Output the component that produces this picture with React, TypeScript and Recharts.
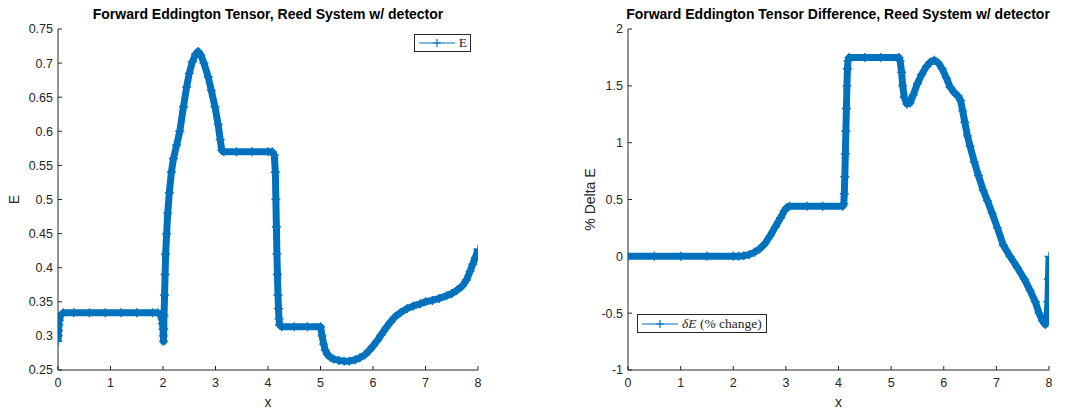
import { LineChart, Line, XAxis, YAxis } from 'recharts';

// shared axis ticks
const xTicks = [0, 1, 2, 3, 4, 5, 6, 7, 8];
const eTicks = [0.25, 0.3, 0.35, 0.4, 0.45, 0.5, 0.55, 0.6, 0.65, 0.7, 0.75];
const deltaTicks = [-1, -0.5, 0, 0.5, 1, 1.5, 2];

// forward Eddington tensor E(x)
const eX = [
  0, 0.005, 0.01, 0.015, 0.025, 0.05, 0.1, 0.3, 0.6, 0.9, 1.2, 1.5, 1.8, 1.9, 1.95, 1.98, 1.99, 2.0, 2.005, 2.01,
  2.015, 2.02, 2.03, 2.04, 2.05, 2.07, 2.09, 2.12, 2.16, 2.2, 2.26, 2.32, 2.39, 2.45, 2.5, 2.56, 2.62, 2.67,
  2.72, 2.78, 2.86, 2.92, 2.99, 3.05, 3.09, 3.12, 3.16, 3.4, 3.7, 4.0, 4.08, 4.12, 4.14, 4.15, 4.16, 4.17,
  4.18, 4.19, 4.2, 4.21, 4.22, 4.26, 4.5, 4.75, 5.0, 5.03, 5.06, 5.09, 5.13, 5.18, 5.25, 5.35, 5.45, 5.55,
  5.66, 5.75, 5.84, 5.92, 6.0, 6.08, 6.15, 6.25, 6.33, 6.42, 6.52, 6.65, 6.77, 6.9, 7.0, 7.13, 7.26, 7.4,
  7.5, 7.6, 7.7, 7.78, 7.85, 7.9, 7.95, 8.0,
];
const eVal = [
  0.292, 0.3, 0.308, 0.316, 0.323, 0.33, 0.334, 0.334, 0.334, 0.334, 0.334, 0.334, 0.334, 0.334, 0.331, 0.325, 0.318, 0.31, 0.3, 0.292,
  0.31, 0.33, 0.36, 0.39, 0.42, 0.45, 0.48, 0.51, 0.54, 0.56, 0.58, 0.6, 0.636, 0.665, 0.685, 0.702, 0.713, 0.717,
  0.712, 0.7, 0.68, 0.66, 0.636, 0.61, 0.588, 0.572, 0.57, 0.57, 0.57, 0.57, 0.57, 0.565, 0.54, 0.5, 0.46, 0.42,
  0.39, 0.36, 0.34, 0.325, 0.316, 0.3135, 0.3135, 0.3135, 0.3135, 0.3, 0.288, 0.279, 0.273, 0.269, 0.266, 0.264, 0.263, 0.263,
  0.265, 0.268, 0.272, 0.278, 0.285, 0.293, 0.301, 0.312, 0.32, 0.328, 0.334, 0.34, 0.344, 0.347, 0.35, 0.352, 0.355, 0.359,
  0.362, 0.367, 0.373, 0.382, 0.395, 0.405, 0.415, 0.427,
];

// percent change of E
const dX = [
  0, 0.5, 1, 1.5, 2, 2.1, 2.2, 2.3, 2.4, 2.5, 2.6, 2.7, 2.8, 2.9, 2.97, 3.02, 3.07, 3.4, 3.7, 4.08,
  4.1, 4.11, 4.12, 4.13, 4.14, 4.15, 4.16, 4.17, 4.18, 4.2, 4.5, 4.8, 5.15, 5.17, 5.2, 5.22, 5.25, 5.3,
  5.36, 5.42, 5.5, 5.58, 5.67, 5.75, 5.82, 5.9, 5.97, 6.05, 6.12, 6.2, 6.27, 6.32, 6.36, 6.4, 6.45, 6.5,
  6.58, 6.66, 6.75, 6.83, 6.92, 7.02, 7.13, 7.26, 7.4, 7.53, 7.64, 7.74, 7.81, 7.88, 7.93, 7.96, 7.98, 7.99, 8.0,
];
const dVal = [
  0, 0, 0, 0, 0, 0, 0.005, 0.015, 0.035, 0.065, 0.11, 0.18, 0.26, 0.34, 0.4, 0.43, 0.44, 0.44, 0.44, 0.44,
  0.46, 0.55, 0.7, 0.9, 1.1, 1.3, 1.5, 1.65, 1.72, 1.75, 1.75, 1.75, 1.75, 1.72, 1.62, 1.5, 1.4, 1.34,
  1.35, 1.42, 1.52, 1.6, 1.67, 1.71, 1.725, 1.7, 1.65, 1.57, 1.49, 1.44, 1.41, 1.37, 1.28, 1.18, 1.06, 0.97,
  0.83, 0.71, 0.58, 0.49, 0.38, 0.25, 0.1, 0, -0.1, -0.2, -0.3, -0.4, -0.5, -0.57, -0.6, -0.56, -0.4, -0.2, 0,
];

const BLUE = '#0072BD';
const AXIS = '#262626';
const SANS = '"Liberation Sans", Arial, Helvetica, sans-serif';
const SERIF = '"Liberation Serif", "DejaVu Serif", serif';

const eData = eX.map((x, i) => ({ x, v: eVal[i] }));
const dData = dX.map((x, i) => ({ x, v: dVal[i] }));

const trimNum = (v: number) => String(Number(v.toFixed(2)));

function PlusDot(props: any) {
  const { cx, cy } = props;
  if (cx == null || cy == null) return null;
  return (
    <path
      d={`M${cx - 4.5},${cy}H${cx + 4.5}M${cx},${cy - 4.5}V${cy + 4.5}`}
      stroke={BLUE}
      strokeWidth={1.4}
      fill="none"
    />
  );
}

function LegendKey() {
  return (
    <svg width={38} height={10} style={{ display: 'block' }}>
      <line x1={1} y1={5} x2={37} y2={5} stroke={BLUE} strokeWidth={1.2} />
      <path d="M19,1V9M15,5H23" stroke={BLUE} strokeWidth={1.2} />
    </svg>
  );
}

interface PanelProps {
  left: number;
  width: number;
  data: { x: number; v: number }[];
  domain: [number, number];
  yTicks: number[];
  yLabel: string;
  yAxisWidth: number;
  yLabelOffset: number;
  marginRight: number;
}

function Panel({ left, width, data, domain, yTicks, yLabel, yAxisWidth, yLabelOffset, marginRight }: PanelProps) {
  return (
    <div style={{ position: 'absolute', left, top: 0 }}>
      <LineChart width={width} height={414} data={data} margin={{ top: 29, right: marginRight, bottom: 0, left: 0 }}>
        <XAxis
          type="number"
          dataKey="x"
          domain={[0, 8]}
          ticks={xTicks}
          interval={0}
          allowDataOverflow
          height={44}
          stroke={AXIS}
          tickSize={-4}
          tickMargin={12}
          tick={{ fill: AXIS, fontSize: 12.5, fontFamily: SANS }}
          label={{ value: 'x', position: 'insideBottom', offset: 7, fill: AXIS, fontSize: 14, fontFamily: SANS }}
        />
        <YAxis
          type="number"
          dataKey="v"
          domain={domain}
          ticks={yTicks}
          interval={0}
          allowDataOverflow
          width={yAxisWidth}
          stroke={AXIS}
          tickSize={-4}
          tickMargin={9}
          tickFormatter={trimNum}
          tick={{ fill: AXIS, fontSize: 12.5, fontFamily: SANS }}
          label={{
            value: yLabel,
            angle: -90,
            position: 'insideLeft',
            offset: yLabelOffset,
            fill: AXIS,
            fontSize: 14,
            fontFamily: SANS,
            style: { textAnchor: 'middle' },
          }}
        />
        <Line
          type="linear"
          dataKey="v"
          stroke={BLUE}
          strokeWidth={7}
          strokeLinejoin="round"
          dot={<PlusDot />}
          activeDot={false}
          isAnimationActive={false}
        />
      </LineChart>
    </div>
  );
}

const titleStyle = {
  position: 'absolute' as const,
  top: 6,
  fontFamily: SANS,
  fontWeight: 700,
  fontSize: 14,
  color: '#000',
  textAlign: 'center' as const,
  whiteSpace: 'nowrap' as const,
};

const legendStyle = {
  position: 'absolute' as const,
  boxSizing: 'border-box' as const,
  display: 'flex',
  alignItems: 'center',
  gap: 3,
  padding: '0 3px',
  border: `1px solid ${AXIS}`,
  background: '#fff',
  fontFamily: SERIF,
  fontSize: 13.5,
  color: AXIS,
};

export default function App() {
  return (
    <div style={{ position: 'absolute', left: 0, top: 0, width: 1078, height: 414, background: '#fff', overflow: 'hidden' }}>
      <Panel
        left={0}
        width={540}
        data={eData}
        domain={[0.25, 0.75]}
        yTicks={eTicks}
        yLabel="E"
        yAxisWidth={58}
        yLabelOffset={14}
        marginRight={62}
      />
      <Panel
        left={540}
        width={538}
        data={dData}
        domain={[-1, 2]}
        yTicks={deltaTicks}
        yLabel="% Delta E"
        yAxisWidth={88}
        yLabelOffset={50}
        marginRight={29}
      />

      <div style={{ ...titleStyle, left: 18, width: 500 }}>Forward Eddington Tensor, Reed System w/ detector</div>
      <div style={{ ...titleStyle, left: 588, width: 500 }}>Forward Eddington Tensor Difference, Reed System w/ detector</div>

      <div style={{ ...legendStyle, left: 414, top: 34, width: 57, height: 18 }}>
        <LegendKey />
        <span>E</span>
      </div>
      <div style={{ ...legendStyle, left: 637, top: 314, width: 130, height: 19 }}>
        <LegendKey />
        <span>
          <i>δE</i> (% change)
        </span>
      </div>
    </div>
  );
}
